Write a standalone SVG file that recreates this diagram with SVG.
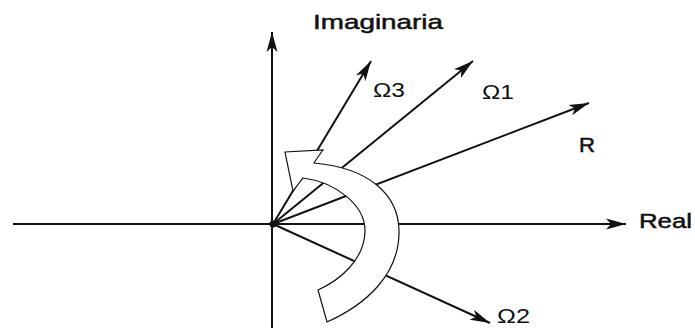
<svg xmlns="http://www.w3.org/2000/svg" width="695" height="330" viewBox="0 0 695 330">
<defs>
<style>
.ray{stroke:#111;stroke-width:2;fill:none;marker-end:url(#ah)}
.lbl{font-family:"Liberation Sans",Arial,sans-serif;fill:#111;font-size:21px}
.strong{stroke:#111;stroke-width:0.5}
.bend{fill:#fff;stroke:#111;stroke-width:1.2;stroke-linejoin:miter}
</style>
<marker id="ah" markerUnits="userSpaceOnUse" markerWidth="22" markerHeight="12" refX="20" refY="6" orient="auto">
<path d="M0,0.5 L20,6 L0,11.5 L5,6 Z" fill="#111"/>
</marker>
</defs>
<rect width="695" height="330" fill="#fff"/>
<g id="connectors">
<line id="real-axis" class="ray" x1="13" y1="224" x2="626" y2="224"/>
<line id="imag-axis" class="ray" x1="272" y1="328" x2="272" y2="32"/>
<line id="ray-omega3" class="ray" x1="273" y1="224" x2="371" y2="61"/>
<line id="ray-omega1" class="ray" x1="273" y1="224" x2="473" y2="61"/>
<line id="ray-R" class="ray" x1="273" y1="224" x2="589" y2="103"/>
<line id="ray-omega2" class="ray" x1="273" y1="224" x2="490" y2="323"/>
<circle cx="273" cy="224" r="3.5" fill="#111"/>
</g>
<g id="rotation-arrow">
<path class="bend" d="M327,322 C365,305 400,275 399,230 C398,195 370,168 314,163 L318,157 L323,150 L285,152 L293,191 L303,178 C335,182 366,205 365,232 C364,260 340,280 318,290 Z"/>
</g>
<g id="label-imaginaria"><text class="lbl strong" x="313" y="29" font-size="22" textLength="130" lengthAdjust="spacingAndGlyphs">Imaginaria</text></g>
<g id="label-omega3"><text class="lbl" x="373" y="97" textLength="32" lengthAdjust="spacingAndGlyphs">Ω3</text></g>
<g id="label-omega1"><text class="lbl" x="482" y="99" textLength="32" lengthAdjust="spacingAndGlyphs">Ω1</text></g>
<g id="label-R"><text class="lbl strong" x="579" y="152" font-size="20" textLength="16" lengthAdjust="spacingAndGlyphs">R</text></g>
<g id="label-real"><text class="lbl strong" x="639" y="228" textLength="53" lengthAdjust="spacingAndGlyphs">Real</text></g>
<g id="label-omega2"><text class="lbl" x="497" y="323" textLength="33" lengthAdjust="spacingAndGlyphs">Ω2</text></g>
</svg>
